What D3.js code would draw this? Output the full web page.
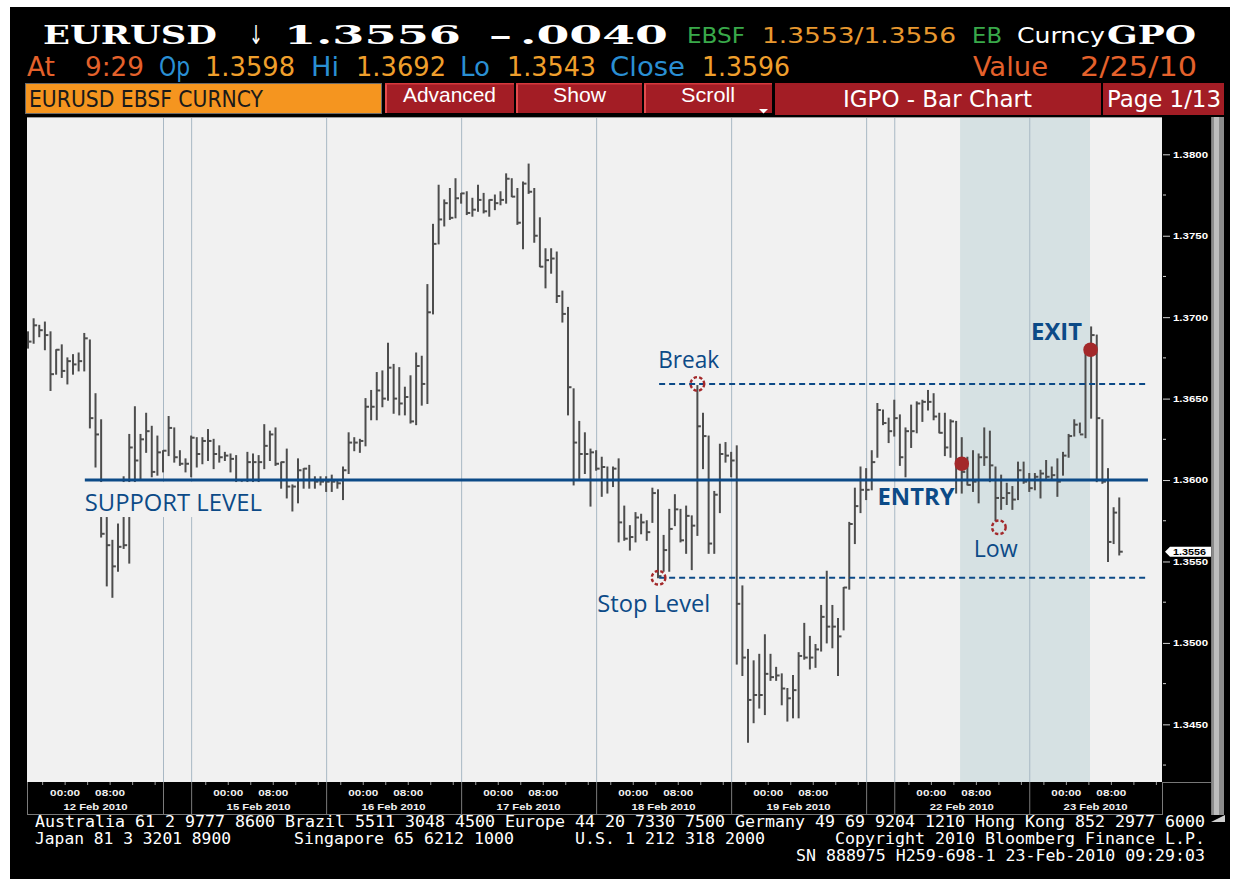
<!DOCTYPE html>
<html><head><meta charset="utf-8">
<script src="https://cdn.jsdelivr.net/npm/d3@7"></script>
<style>body{margin:0;background:#fff}svg{display:block}</style>
</head><body>
<svg id="c" width="1241" height="882"></svg>
<script>
// ---------------- DATA (hourly EURUSD bars, 12–23 Feb 2010) ----------------
const highs = [1.3691,1.3699,1.3695,1.3697,1.3691,1.3680,1.3683,1.3675,1.3677,1.3678,
1.3690,1.3686,1.3653,1.3637,1.3580,1.3563,1.3573,1.3602,1.3628,1.3645,
1.3628,1.3641,1.3633,1.3627,1.3618,1.3639,1.3632,1.3618,1.3613,1.3627,
1.3626,1.3626,1.3631,1.3625,1.3621,1.3617,1.3616,1.3615,1.3599,1.3617,
1.3616,1.3615,1.3634,1.3630,1.3632,1.3611,1.3619,1.3597,1.3613,1.3607,
1.3609,1.3602,1.3602,1.3602,1.3603,1.3600,1.3608,1.3629,1.3626,1.3625,
1.3650,1.3655,1.3666,1.3667,1.3684,1.3671,1.3669,1.3657,1.3664,1.3678,
1.3676,1.3720,1.3757,1.3781,1.3772,1.3779,1.3785,1.3776,1.3777,1.3773,
1.3781,1.3776,1.3772,1.3775,1.3777,1.3788,1.3785,1.3779,1.3783,1.3794,
1.3779,1.3761,1.3742,1.3742,1.3740,1.3716,1.3706,1.3656,1.3636,1.3629,
1.3619,1.3618,1.3614,1.3608,1.3608,1.3613,1.3584,1.3572,1.3580,1.3579,
1.3575,1.3595,1.3594,1.3566,1.3582,1.3591,1.3582,1.3584,1.3578,1.3658,
1.3641,1.3627,1.3593,1.3622,1.3623,1.3617,1.3621,1.3535,1.3496,1.3489,
1.3493,1.3505,1.3493,1.3485,1.3481,1.3472,1.3480,1.3494,1.3512,1.3504,
1.3499,1.3523,1.3544,1.3523,1.3515,1.3534,1.3574,1.3595,1.3608,1.3607,
1.3618,1.3647,1.3643,1.3638,1.3649,1.3640,1.3632,1.3646,1.3648,1.3649,
1.3655,1.3653,1.3641,1.3641,1.3637,1.3636,1.3626,1.3614,1.3618,1.3616,
1.3632,1.3630,1.3608,1.3603,1.3598,1.3596,1.3611,1.3611,1.3604,1.3604,
1.3606,1.3612,1.3608,1.3613,1.3617,1.3628,1.3637,1.3635,1.3680,1.3694,
1.3689,1.3637,1.3607,1.3583,1.3589];
const lows = [1.3681,1.3684,1.3688,1.3680,1.3655,1.3665,1.3663,1.3659,1.3665,1.3667,
1.3667,1.3632,1.3608,1.3565,1.3535,1.3528,1.3544,1.3558,1.3549,1.3598,
1.3600,1.3617,1.3602,1.3603,1.3605,1.3615,1.3611,1.3609,1.3605,1.3602,
1.3608,1.3610,1.3612,1.3607,1.3611,1.3612,1.3605,1.3596,1.3582,1.3592,
1.3596,1.3596,1.3607,1.3612,1.3609,1.3595,1.3589,1.3581,1.3586,1.3595,
1.3595,1.3595,1.3597,1.3593,1.3593,1.3595,1.3588,1.3604,1.3618,1.3617,
1.3621,1.3637,1.3637,1.3645,1.3649,1.3641,1.3640,1.3640,1.3635,1.3634,
1.3646,1.3647,1.3702,1.3745,1.3756,1.3760,1.3761,1.3770,1.3763,1.3762,
1.3765,1.3764,1.3762,1.3766,1.3769,1.3770,1.3774,1.3757,1.3742,1.3776,
1.3746,1.3731,1.3718,1.3727,1.3709,1.3697,1.3640,1.3597,1.3601,1.3604,
1.3584,1.3606,1.3590,1.3592,1.3596,1.3562,1.3563,1.3557,1.3562,1.3567,
1.3563,1.3574,1.3540,1.3544,1.3544,1.3572,1.3562,1.3555,1.3545,1.3566,
1.3607,1.3555,1.3555,1.3580,1.3611,1.3602,1.3487,1.3480,1.3439,1.3451,
1.3460,1.3456,1.3477,1.3477,1.3462,1.3452,1.3454,1.3454,1.3490,1.3484,
1.3485,1.3495,1.3500,1.3497,1.3480,1.3508,1.3533,1.3561,1.3580,1.3588,
1.3594,1.3614,1.3634,1.3623,1.3627,1.3609,1.3602,1.3620,1.3629,1.3636,
1.3643,1.3637,1.3629,1.3615,1.3614,1.3592,1.3592,1.3597,1.3593,1.3586,
1.3609,1.3599,1.3575,1.3582,1.3585,1.3582,1.3588,1.3598,1.3593,1.3594,
1.3589,1.3601,1.3600,1.3590,1.3603,1.3614,1.3627,1.3629,1.3626,1.3638,
1.3599,1.3598,1.3550,1.3561,1.3554];
const closes = [1.3685,1.3695,1.3692,1.3689,1.3665,1.3680,1.3667,1.3673,1.3671,1.3673,
1.3687,1.3638,1.3628,1.3567,1.3560,1.3547,1.3559,1.3560,1.3620,1.3612,
1.3625,1.3630,1.3605,1.3617,1.3618,1.3632,1.3614,1.3610,1.3610,1.3626,
1.3616,1.3624,1.3624,1.3616,1.3614,1.3615,1.3613,1.3597,1.3588,1.3611,
1.3611,1.3611,1.3621,1.3628,1.3610,1.3611,1.3596,1.3596,1.3606,1.3607,
1.3600,1.3599,1.3599,1.3599,1.3599,1.3598,1.3606,1.3623,1.3623,1.3624,
1.3645,1.3645,1.3655,1.3650,1.3669,1.3650,1.3647,1.3651,1.3636,1.3670,
1.3659,1.3703,1.3745,1.3760,1.3770,1.3761,1.3773,1.3776,1.3764,1.3766,
1.3772,1.3765,1.3772,1.3770,1.3772,1.3785,1.3774,1.3758,1.3782,1.3777,
1.3750,1.3731,1.3735,1.3736,1.3713,1.3702,1.3657,1.3623,1.3616,1.3616,
1.3617,1.3607,1.3608,1.3600,1.3607,1.3574,1.3564,1.3565,1.3577,1.3574,
1.3568,1.3592,1.3541,1.3557,1.3570,1.3582,1.3563,1.3578,1.3572,1.3633,
1.3627,1.3561,1.3591,1.3616,1.3615,1.3612,1.3524,1.3491,1.3465,1.3468,
1.3468,1.3481,1.3479,1.3480,1.3472,1.3466,1.3471,1.3492,1.3491,1.3491,
1.3496,1.3516,1.3510,1.3510,1.3504,1.3534,1.3573,1.3584,1.3594,1.3594,
1.3611,1.3643,1.3635,1.3630,1.3638,1.3614,1.3630,1.3630,1.3647,1.3648,
1.3648,1.3639,1.3629,1.3620,1.3636,1.3608,1.3605,1.3597,1.3599,1.3614,
1.3614,1.3609,1.3589,1.3589,1.3592,1.3588,1.3606,1.3599,1.3595,1.3602,
1.3604,1.3602,1.3603,1.3599,1.3615,1.3627,1.3634,1.3628,1.3680,1.3689,
1.3638,1.3599,1.3562,1.3580,1.3556];

// session boundaries (bar index where each day box starts) and labels
const dayStart = [0, 24, 29, 53, 77, 101, 125, 149, 154, 178];
const dayEnd   = [24, 29, 53, 77, 101, 125, 149, 154, 178, 201.6];
const dayLabels = ["12 Feb 2010", "", "15 Feb 2010", "16 Feb 2010", "17 Feb 2010",
                   "18 Feb 2010", "19 Feb 2010", "", "22 Feb 2010", "23 Feb 2010"];
const hourLabels = ["00:00", "08:00"];
const hourOffsets = [6.6, 14.6];

const yTicks = [1.3450, 1.3500, 1.3550, 1.3600, 1.3650, 1.3700, 1.3750, 1.3800];
const yMinor = [1.3425, 1.3475, 1.3525, 1.3575, 1.3625, 1.3675, 1.3725, 1.3775];
const lastPrice = 1.3556;

// trade annotations
const supportLevel = 1.3600, breakLevel = 1.3659, stopLevel = 1.3540;
const tradeWindow = [165.7, 188.8];
const breakPt = {i: 119, p: 1.3659}, stopPt = {i: 112.1, p: 1.3540}, lowPt = {i: 172.6, p: 1.3571};
const entryPt = {i: 166, p: 1.3610}, exitPt = {i: 188.9, p: 1.3680};

// ---------------- DRAW ----------------
const svg = d3.select("#c");
const BLUE = "#0c4a87", RED = "#a3282a";
function T(g, x, y, s, o = {}) {
  const t = g.append("text").attr("x", x).attr("y", y).text(s)
    .attr("font-family", o.f || "'Liberation Sans', Arial, sans-serif")
    .attr("font-size", o.s || 14).attr("fill", o.c || "#fff");
  if (o.w) t.attr("font-weight", o.w);
  if (o.len) t.attr("textLength", o.len).attr("lengthAdjust", "spacingAndGlyphs");
  if (o.a) t.attr("text-anchor", o.a);
  return t;
}
svg.append("rect").attr("width", 1241).attr("height", 882).attr("fill", "#fff");
svg.append("rect").attr("x", 10).attr("y", 7).attr("width", 1220).attr("height", 872).attr("fill", "#000");

// header row 1
const SER = "'DejaVu Serif', serif", SAN = "'DejaVu Sans', sans-serif";
const NAR = "'Liberation Sans Narrow','DejaVu Sans Condensed','Liberation Sans',sans-serif";
T(svg, 43, 44, "EURUSD", {f: SER, s: 26, w: "bold", len: 174});
T(svg, 249, 44, "↓", {f: SAN, s: 26, len: 14});
T(svg, 284, 44, "1.3556", {f: SER, s: 26, w: "bold", len: 177});
T(svg, 489, 44, "–", {f: SER, s: 26, w: "bold", len: 23});
T(svg, 520, 44, ".0040", {f: SER, s: 26, w: "bold", len: 148});
T(svg, 687, 43, "EBSF", {f: NAR, s: 22, c: "#39a94a", len: 58});
T(svg, 762, 43, "1.3553/1.3556", {f: NAR, s: 22, c: "#e8982f", len: 194});
T(svg, 972, 43, "EB", {f: NAR, s: 22, c: "#39a94a", len: 30});
T(svg, 1017, 43, "Curncy", {f: NAR, s: 22, c: "#fff", len: 88});
T(svg, 1107, 44, "GPO", {f: SER, s: 26, w: "bold", len: 89});

// header row 2
const r2 = [["At", 27, 28, "#e4612b"], ["9:29", 85, 59, "#e4612b"], ["Op", 159, 31, "#2a8fd3"],
  ["1.3598", 205, 90, "#ef9f2c"], ["Hi", 311, 28, "#2a8fd3"], ["1.3692", 356, 90, "#ef9f2c"],
  ["Lo", 460, 30, "#2a8fd3"], ["1.3543", 507, 89, "#ef9f2c"], ["Close", 610, 75, "#2a8fd3"],
  ["1.3596", 702, 88, "#ef9f2c"], ["Value", 973, 75, "#e4612b"], ["2/25/10", 1080, 117, "#e4612b"]];
r2.forEach(d => T(svg, d[1], 76, d[0], {f: NAR, s: 26, c: d[3], len: d[2]}));

// header row 3
svg.append("rect").attr("x", 25.5).attr("y", 83.5).attr("width", 356).attr("height", 30)
  .attr("fill", "#f5951f").attr("stroke", "#6b6b6b");
T(svg, 29, 107, "EURUSD EBSF CURNCY", {f: NAR, s: 23, c: "#1a1a1a", len: 234});
const btns = [["Advanced", 385, 514, 403, 93, 102], ["Show", 516, 642, 553, 53, 102],
  ["Scroll", 644, 772, 681, 54, 102], ["IGPO - Bar Chart", 775, 1101, 843, 189, 107],
  ["Page 1/13", 1103, 1224, 1107, 114, 107]];
btns.forEach((b, k) => {
  const h = k < 3 ? 30 : 32;
  svg.append("rect").attr("x", b[1]).attr("y", 83).attr("width", b[2] - b[1]).attr("height", h).attr("fill", "#a31d25");
  if (k < 3) {
    svg.append("rect").attr("x", b[1]).attr("y", 83).attr("width", 2).attr("height", h).attr("fill", "#e44b4e");
    svg.append("rect").attr("x", b[1]).attr("y", 83).attr("width", b[2] - b[1]).attr("height", 1.5).attr("fill", "#d6393d");
  }
  T(svg, b[3], b[5], b[0], {f: k < 3 ? "'Liberation Sans',Arial,sans-serif" : NAR, s: k < 3 ? 21 : 23, c: "#fff", len: b[4]});
});
svg.append("path").attr("d", "M759,109 L768,109 L763.5,113.5 Z").attr("fill", "#fff");

// plot area
const P = {l: 27, r: 1162, t: 117, b: 782};
const x = d3.scaleLinear().domain([-0.18, 201.6]).range([P.l, P.r]);
const y = d3.scaleLinear().domain([1.34146, 1.38229]).range([P.b, P.t]);
svg.append("rect").attr("x", P.l).attr("y", P.t).attr("width", P.r - P.l).attr("height", P.b - P.t).attr("fill", "#f1f1f1");
svg.append("line").attr("x1", P.l).attr("x2", P.r).attr("y1", P.t + 0.5).attr("y2", P.t + 0.5).attr("stroke", "#9a9a9a");
svg.append("rect").attr("x", x(tradeWindow[0])).attr("y", P.t + 1).attr("width", x(tradeWindow[1]) - x(tradeWindow[0]))
  .attr("height", P.b - P.t - 1).attr("fill", "#d6e1e3");
svg.append("g").selectAll("line").data(dayStart.slice(1)).join("line")
  .attr("x1", d => x(d) + 0.5).attr("x2", d => x(d) + 0.5).attr("y1", P.t + 1).attr("y2", P.b)
  .attr("stroke", "#a9b8c4").attr("stroke-width", 1);

// bars
const bars = svg.append("g").attr("stroke", "#4d4d4d").attr("stroke-width", 2);
highs.forEach((h, i) => {
  const cx = x(i);
  bars.append("line").attr("x1", cx).attr("x2", cx).attr("y1", y(h) - 0.5).attr("y2", y(lows[i]) + 0.5);
  bars.append("line").attr("x1", cx).attr("x2", cx + 3.5).attr("y1", y(closes[i])).attr("y2", y(closes[i]));
});

// annotations
const ann = svg.append("g");
ann.append("line").attr("x1", x(10.1)).attr("x2", x(199.1)).attr("y1", y(supportLevel)).attr("y2", y(supportLevel))
  .attr("stroke", BLUE).attr("stroke-width", 3);
[breakLevel, stopLevel].forEach(v => ann.append("line").attr("x1", x(112.2)).attr("x2", x(199.1))
  .attr("y1", y(v)).attr("y2", y(v)).attr("stroke", BLUE).attr("stroke-width", 2).attr("stroke-dasharray", "6,4"));
function label(txt, px, py, bold, len) {
  const t = T(ann, px, py, txt, {f: "'Open Sans','Noto Sans',sans-serif", s: 23, c: BLUE, w: bold ? "bold" : null, len: len});
  return t;
}
function bg(x0, y0, w, h) { ann.append("rect").attr("x", x0).attr("y", y0).attr("width", w).attr("height", h).attr("fill", "#f1f1f1"); }
bg(x(10.1) - 1, y(supportLevel) + 2, 180, 35);
label("SUPPORT LEVEL", x(10.1), y(supportLevel) + 31, false, 177);
label("Break", x(112.2) - 1, y(breakLevel) - 16, false, 61);
label("Stop Level", x(101.2), y(stopLevel) + 34, false, 113);
label("ENTRY", x(151.2) - 1, y(supportLevel) + 25, true, 77);
label("Low", x(168.3) - 1, y(supportLevel) + 77, false, 44);
label("EXIT", x(178.5) - 1, y(exitPt.p) - 10, true, 51);
[breakPt, stopPt, lowPt].forEach(d => ann.append("circle").attr("cx", x(d.i)).attr("cy", y(d.p)).attr("r", 6.8)
  .attr("fill", "none").attr("stroke", RED).attr("stroke-width", 2.4).attr("stroke-dasharray", "3.4,2.2"));
[entryPt, exitPt].forEach(d => ann.append("circle").attr("cx", x(d.i)).attr("cy", y(d.p)).attr("r", 7.3).attr("fill", RED));

// right axis
svg.append("rect").attr("x", P.r).attr("y", P.t).attr("width", 49).attr("height", 698).attr("fill", "#000");
const ax = svg.append("g").attr("transform", `translate(${P.r + 1},0)`)
  .call(d3.axisRight(y).tickValues(yTicks).tickSize(7).tickPadding(3).tickFormat(d3.format(".4f")));
ax.select(".domain").remove();
ax.selectAll("line").attr("stroke", "#d0d0d0");
ax.selectAll("text").attr("fill", "#fff").attr("font-size", 9).attr("font-weight", "bold")
  .attr("font-family", "'Liberation Sans',Arial,sans-serif").attr("textLength", 35).attr("lengthAdjust", "spacingAndGlyphs");
svg.append("g").selectAll("line").data(yMinor).join("line").attr("x1", P.r + 1).attr("x2", P.r + 4)
  .attr("y1", d => y(d)).attr("y2", d => y(d)).attr("stroke", "#d0d0d0");
const ly = y(lastPrice);
svg.append("path").attr("d", `M${P.r + 3},${ly} L${P.r + 8},${ly - 5} L${P.r + 49},${ly - 5} L${P.r + 49},${ly + 5} L${P.r + 8},${ly + 5} Z`)
  .attr("fill", "#fff");
T(svg, P.r + 11, ly + 3.5, d3.format(".4f")(lastPrice), {s: 9, w: "bold", c: "#000", len: 33});
svg.append("line").attr("x1", P.r + 49.5).attr("x2", P.r + 49.5).attr("y1", P.t).attr("y2", 815).attr("stroke", "#777");
svg.append("line").attr("x1", P.r).attr("x2", P.r + 50).attr("y1", P.b + 0.5).attr("y2", P.b + 0.5).attr("stroke", "#777");

// scrollbar
svg.append("rect").attr("x", 1212).attr("y", P.t).attr("width", 12).attr("height", 698).attr("fill", "#8c8c8c");
svg.append("rect").attr("x", 1214).attr("y", P.t).attr("width", 5).attr("height", 698).attr("fill", "#bdbdbd");
svg.append("path").attr("d", "M1211,822 L1225,822 L1225,815 Z").attr("fill", "#cfcfcf");

// bottom (time) axis
const bx = svg.append("g");
bx.append("line").attr("x1", P.l).attr("x2", P.r).attr("y1", 814.5).attr("y2", 814.5).attr("stroke", "#7a7a7a");
bx.append("line").attr("x1", P.l + 0.5).attr("x2", P.l + 0.5).attr("y1", P.b).attr("y2", 815).attr("stroke", "#7a7a7a");
dayStart.forEach((s, k) => {
  const e = dayEnd[k];
  bx.append("line").attr("x1", x(e) + 0.5).attr("x2", x(e) + 0.5).attr("y1", P.b).attr("y2", 815).attr("stroke", "#7a7a7a");
  if (!dayLabels[k]) return;
  d3.range(s + 2.6, e, 4).forEach(t => bx.append("line").attr("x1", x(t)).attr("x2", x(t))
    .attr("y1", P.b).attr("y2", P.b + 3).attr("stroke", "#9a9a9a"));
  hourLabels.forEach((hl, j) => T(bx, x(s + hourOffsets[j]), 796, hl, {s: 9, w: "bold", a: "middle", len: 30, c: "#f0f0f0"}));
  T(bx, (x(s) + x(e)) / 2, 810, dayLabels[k], {s: 9, w: "bold", a: "middle", len: 64, c: "#f0f0f0"});
});

// footer
const MONO = "'DejaVu Sans Mono','Liberation Mono',monospace";
T(svg, 35, 827, "Australia 61 2 9777 8600 Brazil 5511 3048 4500 Europe 44 20 7330 7500 Germany 49 69 9204 1210 Hong Kong 852 2977 6000", {f: MONO, s: 15, len: 1170});
T(svg, 35, 844, "Japan 81 3 3201 8900", {f: MONO, s: 15, len: 196});
T(svg, 294, 844, "Singapore 65 6212 1000", {f: MONO, s: 15, len: 220});
T(svg, 575, 844, "U.S. 1 212 318 2000", {f: MONO, s: 15, len: 190});
T(svg, 835, 844, "Copyright 2010 Bloomberg Finance L.P.", {f: MONO, s: 15, len: 370});
T(svg, 796, 861, "SN 888975 H259-698-1 23-Feb-2010 09:29:03", {f: MONO, s: 15, len: 409});
</script>
</body></html>
